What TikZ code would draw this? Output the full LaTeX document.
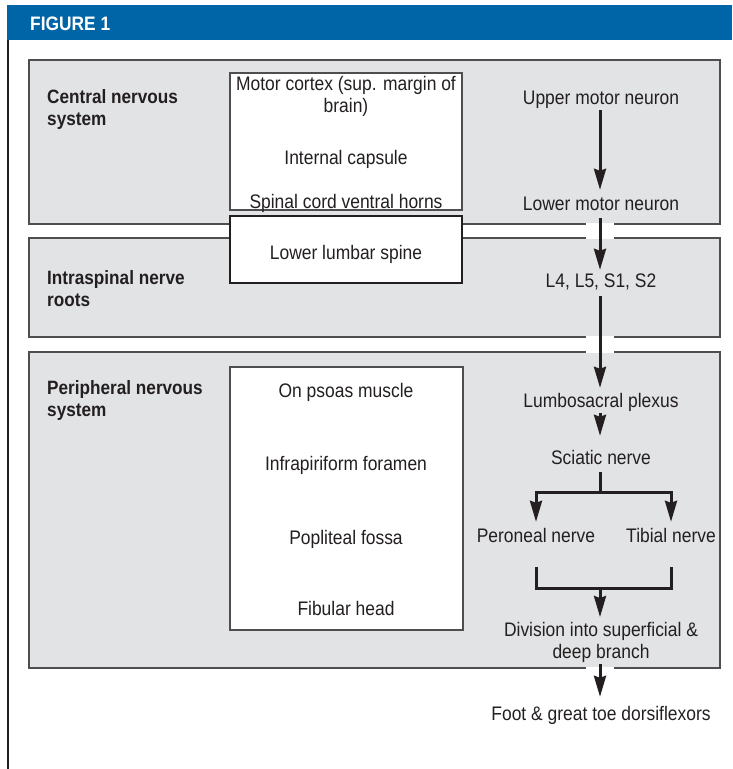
\documentclass[tikz,border=0pt]{standalone}
\usepackage{fontspec}
\setmainfont{Liberation Sans}[FakeStretch=0.89]
\usetikzlibrary{arrows.meta}
\definecolor{hdrblue}{RGB}{0,101,166}
\definecolor{panelgray}{RGB}{226,227,229}
\definecolor{bordergray}{RGB}{78,78,80}
\definecolor{ink}{RGB}{35,31,32}
\begin{document}
\begin{tikzpicture}[x=1pt,y=-1pt,
  panel/.style={draw=bordergray,line width=1.3pt,fill=panelgray},
  whitebox/.style={draw=bordergray,line width=1.3pt,fill=white},
  thickbox/.style={draw=ink,line width=2.4pt,fill=white},
  lbl/.style={inner sep=0pt,text=ink,font=\fontsize{19.6}{22}\selectfont},
  flow/.style={lbl,anchor=base,text height=14pt,text depth=4pt},
  multi/.style={lbl,anchor=north,align=center,font=\fontsize{19.6}{22.5}\selectfont},
  side/.style={lbl,anchor=north west,align=left,font=\fontsize{19.3}{22.5}\selectfont\bfseries},
  arr/.style={line width=3pt,draw=ink,-{Stealth[length=21pt,width=12pt,inset=2pt]}},
  conn/.style={line width=3pt,draw=ink},
  gap/.style={fill=white,draw=none}
]
\useasboundingbox (0,0) rectangle (732,769);
% header
\fill[hdrblue] (7,5) rectangle (732,40);
\node[anchor=base west,inner sep=0pt,text=white,font=\fontsize{19.5}{20}\selectfont\bfseries] (title) at (30,30) {FIGURE 1};
\fill[ink] (7,40) rectangle (9,769);
% panels
\draw[panel] (29,60) rectangle (720,224);
\draw[panel] (29,238) rectangle (720,337);
\draw[panel] (29,352) rectangle (720,668);
% border gaps where arrows pass
\foreach \yy in {224,238,337,352,668} {\fill[gap] (586,\yy-1.2) rectangle (614,\yy+1.2);}
% white boxes
\draw[whitebox] (230,73) rectangle (462,210);
\draw[thickbox] (230,216) rectangle (462,283);
\draw[whitebox] (230,367) rectangle (463,630);
% side labels
\node[side] (cns) at (47,89) {Central nervous\\system};
\node[side] (isp) at (47,270) {Intraspinal nerve\\roots};
\node[side] (pns) at (47,380) {Peripheral nervous\\system};
% box texts
\node[multi] (cortex) at (346,76) {Motor cortex (sup. margin of\\brain)};
\node[flow] (capsule) at (346,164) {Internal capsule};
\node[flow] (horns) at (346,208) {Spinal cord ventral horns};
\node[flow] (lumbar) at (346,259) {Lower lumbar spine};
\node[flow] (psoas) at (346,397) {On psoas muscle};
\node[flow] (foramen) at (346,470) {Infrapiriform foramen};
\node[flow] (fossa) at (346,544) {Popliteal fossa};
\node[flow] (fibular) at (346,615) {Fibular head};
% flow column
\node[flow] (upper) at (601,104) {Upper motor neuron};
\node[flow] (lower) at (601,210) {Lower motor neuron};
\node[flow] (roots) at (601,287) {L4, L5, S1, S2};
\node[flow] (plexus) at (601,407) {Lumbosacral plexus};
\node[flow] (sciatic) at (601,464) {Sciatic nerve};
\node[flow] (peroneal) at (536,542) {Peroneal nerve};
\node[flow] (tibial) at (671,542) {Tibial nerve};
\node[multi] (division) at (601,622) {Division into superficial \&\\deep branch};
\node[flow] (foot) at (601,720) {Foot \& great toe dorsiflexors};
\coordinate (split) at (600,492);
\coordinate (join) at (600,588);
% connectors
\draw[arr,shorten <=2pt,shorten >=6pt] (upper.south -| 600,0) -- (lower.north -| 600,0);
\draw[arr,shorten <=4pt,shorten >=3pt] (lower.south -| 600,0) -- (roots.north -| 600,0);
\draw[arr,shorten <=5pt,shorten >=5pt] (roots.south -| 600,0) -- (plexus.north -| 600,0);
\draw[arr,shorten <=2pt,shorten >=14pt] (plexus.south -| 600,0) -- (sciatic.north -| 600,0);
\draw[conn,shorten <=4pt] (sciatic.south -| 600,0) -- (split);
\draw[arr,shorten >=6pt] (split) -| (peroneal.north);
\draw[arr,shorten >=6pt] (split) -| (tibial.north);
\draw[conn,shorten <=21pt,shorten >=21pt] (peroneal.south) |- (join) -| (tibial.south);
\draw[arr,shorten >=5pt] (join) -- (division.north -| 600,0);
\draw[arr,shorten <=1pt,shorten >=9pt] (division.south -| 600,0) -- (foot.north -| 600,0);
\end{tikzpicture}
\end{document}
